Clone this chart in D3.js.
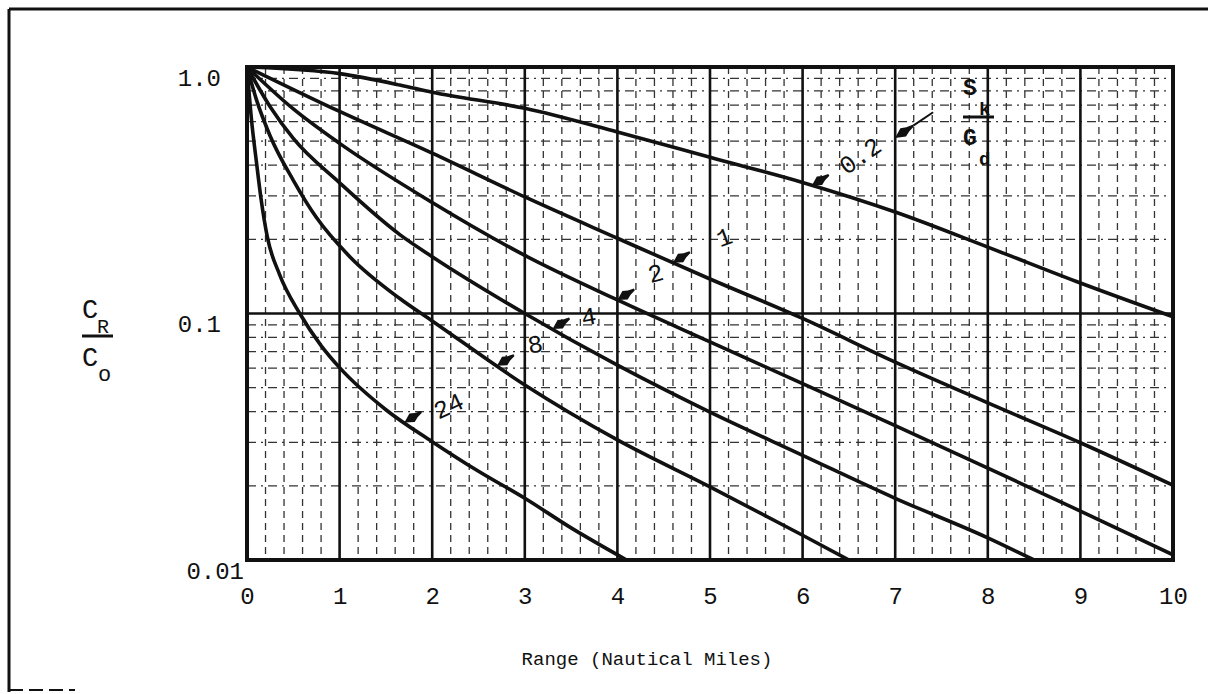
<!DOCTYPE html>
<html>
<head>
<meta charset="utf-8">
<script src="https://cdn.jsdelivr.net/npm/d3@7"></script>
<style>
    body { margin: 0; background: #fff; }
    text { font-family: "Liberation Mono", "DejaVu Sans Mono", monospace; fill: #111; }
</style>
</head>
<body>
<svg id="chart" width="1208" height="694"></svg>
<script>
// Range axis (nautical miles) and C_R/C_o axis
const xTicks = [0, 1, 2, 3, 4, 5, 6, 7, 8, 9, 10];
const yTicks = [1, 0.1, 0.01];
const yTickLabels = ["1.0", "0.1", "0.01"];

// one curve per value of S_k/G_d as [range, C_R/C_o]
const curveNames = ["0.2", "1", "2", "4", "8", "24"];
const curve02 = [[0, 1], [1, 0.94], [1.65, 0.845], [2, 0.79], [3, 0.68], [4, 0.545], [5, 0.43], [6, 0.34], [7, 0.258], [8, 0.186], [9, 0.133], [10, 0.097]];
const curve1 = [[0, 1], [1, 0.66], [2, 0.447], [3, 0.297], [4, 0.202], [5, 0.138], [6, 0.0955], [7, 0.0635], [8, 0.0434], [9, 0.0299], [10, 0.0201]];
const curve2 = [[0, 1], [0.5, 0.676], [1, 0.49], [2, 0.282], [3, 0.172], [4, 0.1135], [5, 0.0767], [6, 0.0519], [7, 0.0351], [8, 0.0236], [9, 0.0158], [10, 0.0105]];
const curve4 = [[0, 1], [0.25, 0.69], [0.5, 0.513], [1, 0.339], [1.65, 0.209], [2, 0.17], [3, 0.1], [4, 0.0617], [5, 0.0398], [6, 0.0266], [7, 0.0178], [8, 0.0123], [8.5, 0.01]];
const curve8 = [[0, 1], [0.1, 0.741], [0.25, 0.525], [0.5, 0.347], [0.75, 0.245], [1.11, 0.17], [1.65, 0.115], [2, 0.0933], [3, 0.0513], [4, 0.0307], [5, 0.0198], [6, 0.0126], [6.5, 0.01]];
const curve24 = [[0, 1], [0.05, 0.603], [0.1, 0.417], [0.15, 0.295], [0.22, 0.204], [0.35, 0.1445], [0.57, 0.1], [0.8, 0.0741], [1, 0.0603], [1.5, 0.0407], [2, 0.0302], [2.5, 0.0229], [3, 0.0178], [3.5, 0.0135], [4.1, 0.01]];
const curves = [curve02, curve1, curve2, curve4, curve8, curve24];

// range at which each label arrow touches its curve
const labelRange = [6.1, 4.6, 4.0, 3.3, 2.7, 1.7];

const svg = d3.select('#chart');
const plot = { left: 247, top: 67, right: 1173, bottom: 560 };

const x = d3.scaleLinear().domain([0, 10]).range([plot.left, plot.right]);
const y = d3.scaleLog().domain([0.01, 1]).range([plot.bottom, plot.top]);

// outer frame of the page (only top and left survive the scan)
svg.append('line').attr('x1', 9).attr('y1', 9).attr('x2', 1208).attr('y2', 9)
    .attr('stroke', '#111').attr('stroke-width', 3);
svg.append('line').attr('x1', 9).attr('y1', 9).attr('x2', 9).attr('y2', 692)
    .attr('stroke', '#111').attr('stroke-width', 3);
svg.append('line').attr('x1', 9).attr('y1', 690).attr('x2', 75).attr('y2', 690)
    .attr('stroke', '#111').attr('stroke-width', 2).attr('stroke-dasharray', '14,6');

const grid = svg.append('g').attr('class', 'grid');

// minor vertical lines every 0.2 nm
const minorX = d3.range(1, 50).filter(i => i % 5 !== 0).map(i => i / 5);
grid.selectAll('.vminor').data(minorX).enter().append('line')
    .attr('x1', d => x(d)).attr('x2', d => x(d))
    .attr('y1', plot.top).attr('y2', plot.bottom)
    .attr('stroke', '#333').attr('stroke-width', 1.3)
    .attr('stroke-dasharray', '7,5');

// minor horizontal lines 2..9 in each decade
const minorY = [];
[0.01, 0.1].forEach(dec => { for (let m = 2; m <= 9; m++) minorY.push(m * dec); });
grid.selectAll('.hminor').data(minorY).enter().append('line')
    .attr('x1', plot.left).attr('x2', plot.right)
    .attr('y1', d => y(d)).attr('y2', d => y(d))
    .attr('stroke', '#333').attr('stroke-width', 1.3)
    .attr('stroke-dasharray', '9,5,2,5');

// major grid lines
grid.selectAll('.vmajor').data(xTicks.slice(1, -1)).enter().append('line')
    .attr('x1', d => x(d)).attr('x2', d => x(d))
    .attr('y1', plot.top).attr('y2', plot.bottom)
    .attr('stroke', '#111').attr('stroke-width', 2.6);
grid.append('line')
    .attr('x1', plot.left).attr('x2', plot.right)
    .attr('y1', y(0.1)).attr('y2', y(0.1))
    .attr('stroke', '#111').attr('stroke-width', 2.6);

// plot border
svg.append('rect')
    .attr('x', plot.left).attr('y', plot.top)
    .attr('width', plot.right - plot.left).attr('height', plot.bottom - plot.top)
    .attr('fill', 'none').attr('stroke', '#111').attr('stroke-width', 4);

// curves
svg.append('clipPath').attr('id', 'clip').append('rect')
    .attr('x', plot.left).attr('y', plot.top)
    .attr('width', plot.right - plot.left).attr('height', plot.bottom - plot.top);

const line = d3.line()
    .x(d => x(d[0]))
    .y(d => y(d[1]))
    .curve(d3.curveMonotoneX);

svg.append('g').attr('clip-path', 'url(#clip)')
    .selectAll('.curve').data(curves).enter().append('path')
    .attr('class', 'curve')
    .attr('d', line)
    .attr('fill', 'none')
    .attr('stroke', '#111')
    .attr('stroke-width', 3.6)
    .attr('stroke-linejoin', 'round');

// x axis labels
const xAxis = svg.append('g')
    .attr('transform', `translate(0, ${plot.bottom})`)
    .call(d3.axisBottom(x).tickValues(xTicks).tickSize(0).tickPadding(27).tickFormat(d3.format('d')));
xAxis.select('.domain').remove();
xAxis.selectAll('text')
    .style('font-size', '24px')
    .style('font-family', '"Liberation Mono", monospace')
    .attr('fill', '#111');

// y axis labels sit just under their grid lines
const yAxis = svg.append('g')
    .attr('transform', `translate(${plot.left}, 0)`)
    .call(d3.axisLeft(y).tickValues(yTicks).tickSize(0).tickPadding(26)
        .tickFormat((d, i) => yTickLabels[i]));
yAxis.select('.domain').remove();
yAxis.selectAll('text')
    .style('font-size', '24px')
    .style('font-family', '"Liberation Mono", monospace')
    .attr('fill', '#111')
    .attr('dy', '0.75em')
    .attr('x', (d, i) => i === 2 ? -3 : -26);

// axis titles
svg.append('text')
    .attr('x', (plot.left + plot.right) / 2 - 63).attr('y', 665)
    .attr('text-anchor', 'middle')
    .style('font-size', '19px')
    .text('Range (Nautical Miles)');

const yTitle = svg.append('g').attr('transform', 'translate(82, 0)');
yTitle.append('text').attr('x', 0).attr('y', 318).style('font-size', '27px').text('C');
yTitle.append('text').attr('x', 15).attr('y', 333).style('font-size', '20px').text('R');
yTitle.append('line').attr('x1', 0).attr('x2', 31).attr('y1', 336).attr('y2', 336)
    .attr('stroke', '#111').attr('stroke-width', 3);
yTitle.append('text').attr('x', 0).attr('y', 366).style('font-size', '27px').text('C');
yTitle.append('text').attr('x', 16).attr('y', 381).style('font-size', '22px').text('o');

// parameter heading S_k / G_d
const param = svg.append('g').attr('transform', 'translate(963, 0)');
param.append('text').attr('x', 0).attr('y', 95).style('font-size', '23px').style('font-weight', 'bold').text('S');
param.append('text').attr('x', 16).attr('y', 115).style('font-size', '19px').style('font-weight', 'bold').text('k');
param.append('line').attr('x1', 0).attr('x2', 31).attr('y1', 117).attr('y2', 117)
    .attr('stroke', '#111').attr('stroke-width', 3);
param.append('text').attr('x', 0).attr('y', 145).style('font-size', '23px').style('font-weight', 'bold').text('G');
param.append('text').attr('x', 16).attr('y', 165).style('font-size', '19px').style('font-weight', 'bold').text('d');

// little hand-drawn wedge arrows pointing down-left at a target
function arrow(tx, ty, angle, len, shaft) {
    const L = len || 20;
    const g = svg.append('g').attr('transform', `translate(${tx},${ty}) rotate(${angle})`);
    g.append('path')
        .attr('d', `M0,0 L${L * 0.45},-5 L${L * 0.7},-2.5 L${L},-1 L${L},1 L${L * 0.7},2.5 L${L * 0.45},5 Z`)
        .attr('fill', '#111');
    if (shaft) {
        g.append('line').attr('x1', L).attr('y1', 0).attr('x2', L + shaft).attr('y2', 0)
            .attr('stroke', '#111').attr('stroke-width', 2);
    }
}

// read a curve at a given range, interpolating in log space
function valueAt(pts, r) {
    for (let i = 1; i < pts.length; i++) {
        if (r <= pts[i][0]) {
            const t = (r - pts[i - 1][0]) / (pts[i][0] - pts[i - 1][0]);
            const l = Math.log10(pts[i - 1][1]) * (1 - t) + Math.log10(pts[i][1]) * t;
            return Math.pow(10, l);
        }
    }
    return pts[pts.length - 1][1];
}

// text placement relative to each arrow tip
const labelLayout = [
    { dx: 48, dy: -30, rot: -35, size: 25 },
    { dx: 51, dy: -26, rot: -20, size: 25 },
    { dx: 38, dy: -27, rot: -15, size: 25 },
    { dx: 36, dy: -13, rot: -10, size: 25 },
    { dx: 38, dy: -22, rot: -10, size: 25 },
    { dx: 44, dy: -17, rot: -25, size: 25 }
];

curveNames.forEach((name, i) => {
    const tx = x(labelRange[i]);
    const ty = y(valueAt(curves[i], labelRange[i]));
    arrow(tx, ty, -32, 20);
    const lay = labelLayout[i];
    svg.append('text')
        .attr('transform', `translate(${tx + lay.dx},${ty + lay.dy}) rotate(${lay.rot})`)
        .attr('text-anchor', 'middle')
        .attr('dy', '0.35em')
        .style('font-size', lay.size + 'px')
        .text(name);
});

// arrow from the heading down to the 0.2 label
arrow(895, 138, -34, 22, 24);
</script>
</body>
</html>
